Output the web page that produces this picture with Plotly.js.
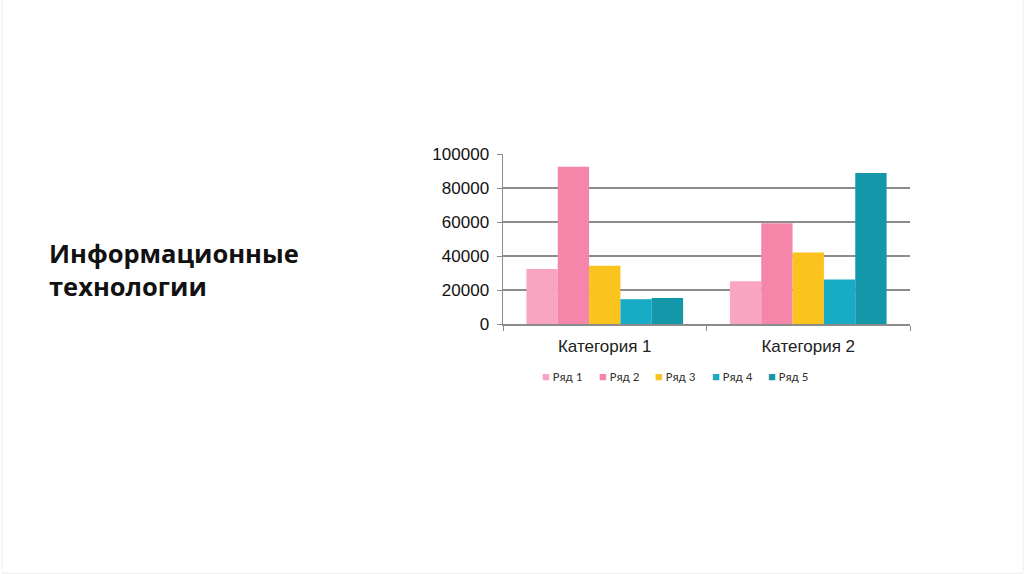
<!DOCTYPE html>
<html>
<head>
<meta charset="utf-8">
<script src="https://cdn.plot.ly/plotly-3.0.1.min.js"></script>
<style>html,body{margin:0;padding:0;background:#fff;}#chart{width:1024px;height:574px;}</style>
</head>
<body>
<div id="chart"></div>
<script>
const categories = ["Категория 1", "Категория 2"];
const seriesNames = ["Ряд 1", "Ряд 2", "Ряд 3", "Ряд 4", "Ряд 5"];
const ryad1 = [32300, 25200];
const ryad2 = [92500, 59300];
const ryad3 = [34200, 42100];
const ryad4 = [14600, 26200];
const ryad5 = [15300, 88800];
const yTicks = [0, 20000, 40000, 60000, 80000, 100000];
const colors = ["#F9A4C1", "#F586AA", "#FBC31E", "#17ABC6", "#1497A9"];
const heading = "Информационные<br>технологии";

const allSeries = [ryad1, ryad2, ryad3, ryad4, ryad5];
const traces = allSeries.map((vals, i) => ({
  type: "bar",
  name: seriesNames[i],
  x: categories,
  y: vals,
  marker: {color: colors[i]},
  hoverinfo: "x+y+name"
}));

// custom legend as annotations (square swatch + name)
const legendStartPx = 540;   // px from left of page
const legendPitch = 56.5;
const plotLeft = 503, plotW = 407;
const legendAnn = seriesNames.map((n, i) => ({
  xref: "paper", yref: "paper",
  x: (legendStartPx + i * legendPitch - plotLeft) / plotW,
  y: -0.31,
  xanchor: "left", yanchor: "middle",
  showarrow: false,
  text: '<span style="color:' + colors[i] + '">■</span> ' + n,
  font: {family: "Carlito, Open Sans, sans-serif", size: 13, color: "#333"}
}));

const layout = {
  width: 1024,
  height: 574,
  margin: {l: 503, r: 114, t: 154, b: 250, pad: 0},
  paper_bgcolor: "#ffffff",
  plot_bgcolor: "#ffffff",
  barmode: "group",
  bargap: 0.23,
  bargroupgap: 0,
  font: {family: "Liberation Sans, Arial, sans-serif", color: "#222"},
  xaxis: {
    type: "category",
    showline: true,
    linecolor: "#8c8c8c",
    linewidth: 1.5,
    ticks: "outside",
    tickson: "boundaries",
    ticklen: 5,
    tickcolor: "#8c8c8c",
    tickfont: {size: 17, color: "#222"},
    ticklabelstandoff: 6,
    showgrid: false,
    zeroline: false
  },
  yaxis: {
    range: [0, 100000],
    tickvals: yTicks,
    ticktext: yTicks.map(String),
    showline: true,
    linecolor: "#8c8c8c",
    linewidth: 1.5,
    ticks: "outside",
    ticklen: 5,
    tickcolor: "#8c8c8c",
    showgrid: true,
    gridcolor: "#8c8c8c",
    gridwidth: 1.2,
    zeroline: false,
    tickfont: {size: 17, color: "#111"},
    ticklabelstandoff: 4
  },
  showlegend: false,
  annotations: [{
    xref: "paper", yref: "paper",
    x: (47 - plotLeft) / plotW, y: 0.32,
    xanchor: "left", yanchor: "middle",
    text: heading,
    showarrow: false,
    align: "left",
    font: {family: "Open Sans, sans-serif", size: 25.5, color: "#111", weight: "bold"}
  }].concat(legendAnn),
  shapes: [{
    type: "rect", xref: "paper", yref: "paper",
    x0: -1.2305, x1: 1.2776, y0: -1.466, y1: 2.367,
    line: {color: "#eeeeee", width: 1}
  }]
};

Plotly.newPlot("chart", traces, layout, {displayModeBar: false, staticPlot: true});
</script>
</body>
</html>
